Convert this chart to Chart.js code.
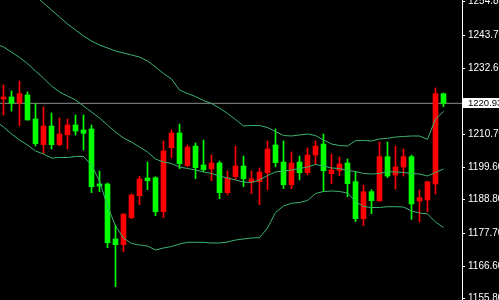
<!DOCTYPE html>
<html><head><meta charset="utf-8">
<script src="https://cdn.jsdelivr.net/npm/chart.js@4.4.1/dist/chart.umd.min.js"></script>
<style>html,body{margin:0;padding:0;background:#000;overflow:hidden}</style>
</head><body>
<canvas id="c" width="499" height="300"></canvas>
<script>
const opens = [1222.37,1223.04,1221.04,1223.70,1215.70,1207.14,1213.37,1207.14,1210.47,1213.70,1212.04,1212.37,1194.04,1194.04,1175.70,1173.80,1182.80,1190.14,1196.04,1196.14,1184.80,1206.14,1211.04,1200.14,1206.70,1200.37,1199.04,1201.04,1191.14,1196.47,1200.04,1194.70,1194.80,1197.80,1207.04,1201.37,1193.80,1201.37,1197.80,1203.70,1207.37,1197.47,1198.47,1201.04,1194.80,1182.47,1191.47,1188.37,1203.14,1197.04,1199.70,1203.14,1188.37,1188.70,1194.04,1224.14];
const highs = [1227.04,1225.04,1228.37,1224.70,1220.80,1219.70,1217.70,1216.04,1215.70,1217.04,1217.04,1213.70,1198.37,1194.37,1180.37,1184.04,1190.70,1196.60,1201.37,1196.47,1208.37,1212.04,1214.04,1207.04,1207.70,1208.70,1203.70,1201.70,1198.37,1206.70,1203.37,1198.37,1199.37,1208.37,1212.37,1208.37,1204.70,1203.37,1206.04,1208.37,1210.70,1204.04,1203.04,1202.37,1198.14,1193.70,1192.14,1208.04,1208.04,1206.70,1205.70,1203.70,1192.04,1194.80,1226.04,1224.37];
const lows = [1217.04,1218.37,1213.47,1215.37,1206.70,1204.14,1205.70,1206.70,1205.70,1210.37,1205.37,1191.14,1191.47,1172.80,1159.80,1171.47,1182.47,1187.14,1192.14,1183.47,1182.80,1202.80,1199.14,1199.80,1195.80,1198.14,1195.14,1189.14,1190.37,1195.37,1193.14,1190.80,1187.14,1192.14,1199.80,1192.47,1192.47,1195.37,1197.14,1200.47,1191.47,1194.14,1196.80,1189.80,1181.47,1180.14,1184.14,1188.37,1196.14,1192.37,1196.70,1182.27,1181.37,1184.80,1190.70,1219.80];
const closes = [1223.04,1220.94,1224.14,1215.37,1207.47,1213.37,1207.14,1210.70,1213.70,1211.70,1210.94,1193.14,1193.37,1174.47,1173.80,1184.04,1190.37,1195.70,1195.14,1184.80,1205.04,1211.04,1200.80,1206.37,1199.47,1198.80,1201.04,1191.14,1196.14,1200.04,1195.80,1195.70,1198.04,1205.70,1201.14,1193.80,1201.04,1197.80,1203.70,1206.70,1198.47,1198.70,1200.70,1194.14,1182.47,1191.47,1188.47,1203.14,1196.70,1199.70,1203.14,1187.37,1189.47,1194.80,1224.14,1220.93];

// Bollinger bands, one value per bar starting one bar before the first candle
const upperBand = [1270.04,1267.37,1264.70,1262.04,1259.37,1256.70,1254.37,1252.04,1249.70,1247.37,1245.37,1243.37,1241.70,1240.37,1239.37,1238.37,1237.70,1237.04,1236.37,1235.04,1233.04,1230.87,1229.04,1225.37,1224.20,1223.20,1221.87,1220.87,1219.37,1217.54,1215.54,1213.37,1213.54,1213.54,1212.87,1211.54,1210.20,1210.04,1210.37,1210.70,1210.20,1208.70,1207.37,1206.87,1206.70,1208.47,1208.54,1208.37,1209.04,1209.27,1209.70,1209.87,1210.04,1210.04,1208.94,1215.70,1218.20];
const middleBand = [1240.70,1239.70,1238.04,1236.20,1234.20,1231.70,1229.37,1226.70,1224.70,1223.37,1222.04,1220.04,1218.04,1216.04,1213.70,1211.37,1209.37,1208.04,1206.37,1204.70,1202.37,1201.37,1200.87,1199.70,1199.20,1198.70,1198.04,1197.54,1196.70,1196.04,1195.37,1194.70,1194.54,1195.37,1196.87,1198.04,1198.37,1198.70,1199.20,1199.70,1200.54,1200.04,1199.37,1199.20,1198.54,1198.20,1197.54,1197.37,1197.54,1198.20,1198.04,1197.87,1197.54,1197.37,1196.70,1197.87,1199.04];
const lowerBand = [1215.04,1213.04,1210.70,1208.70,1207.04,1205.04,1204.04,1202.70,1202.87,1202.87,1203.20,1203.20,1200.37,1195.04,1186.70,1180.04,1176.04,1174.20,1173.70,1173.37,1172.04,1172.70,1173.20,1174.04,1174.60,1174.60,1174.60,1174.37,1174.37,1174.70,1175.37,1175.70,1176.04,1176.14,1179.37,1184.54,1186.70,1187.60,1187.87,1188.54,1190.87,1191.54,1191.70,1191.54,1191.04,1188.20,1186.54,1186.20,1186.20,1186.47,1186.47,1186.37,1185.04,1184.37,1184.04,1181.37,1179.54];

const yTicks = [1155.80,1166.60,1177.70,1188.80,1199.60,1210.70,1232.60,1243.70,1254.80];
const currentPrice = 1220.93;

const barIndex = opens.map((_, i) => i);
const bandIndex = upperBand.map((_, i) => i - 1);
const UP = '#ff0000', DOWN = '#00ff00', BAND = '#3cb371';
const candleColors = barIndex.map(i => closes[i] >= opens[i] ? UP : DOWN);
const FONT = '"Liberation Sans", Arial, sans-serif';

const bandSet = (arr) => ({
  type: 'line',
  data: bandIndex.map((x, k) => ({x, y: arr[k]})),
  borderColor: BAND, borderWidth: 1, pointRadius: 0, tension: 0, fill: false, order: 0
});

const bg = {
  id: 'bg',
  beforeDraw(chart) {
    const c = chart.ctx; c.save(); c.fillStyle = '#000'; c.fillRect(0, 0, chart.width, chart.height); c.restore();
  }
};
const priceLabel = {
  id: 'priceLabel',
  afterDraw(chart) {
    const c = chart.ctx, s = chart.scales.y;
    const y = s.getPixelForValue(currentPrice);
    c.save();
    c.fillStyle = '#ffffff';
    c.fillRect(463, Math.round(y) - 5, 36, 10);
    c.fillStyle = '#000000';
    c.font = '9.5px ' + FONT;
    c.textBaseline = 'middle';
    c.fillText(currentPrice.toFixed(2), 468, y);
    c.restore();
  }
};

new Chart(document.getElementById('c'), {
  type: 'bar',
  data: {
    datasets: [
      bandSet(upperBand), bandSet(middleBand), bandSet(lowerBand),
      {
        type: 'bar', grouped: false, order: 1,
        data: barIndex.map(i => ({x: i, y: [lows[i], highs[i]]})),
        backgroundColor: candleColors, barThickness: 1, borderWidth: 0
      },
      {
        type: 'bar', grouped: false, order: 1,
        data: barIndex.map(i => ({x: i, y: [opens[i], closes[i]]})),
        backgroundColor: candleColors, barThickness: 5, borderWidth: 0, minBarLength: 1
      },
      {
        type: 'line', order: 2,
        data: [{x: -2, y: currentPrice}, {x: 60, y: currentPrice}],
        borderColor: '#8c8c8c', borderWidth: 1, pointRadius: 0
      }
    ]
  },
  options: {
    responsive: false, animation: false, devicePixelRatio: 1,
    layout: {padding: 0},
    plugins: {legend: {display: false}, tooltip: {enabled: false}},
    scales: {
      x: {type: 'linear', display: false, min: -0.4375, max: 57.3125, offset: false},
      y: {
        position: 'right', min: 1155.37, max: 1255.37,
        afterBuildTicks: s => { s.ticks = yTicks.map(v => ({value: v})); },
        afterFit: s => { s.width = 37; s.paddingTop = 0; s.paddingBottom = 0; },
        ticks: {color: '#ffffff', font: {family: FONT, size: 10}, padding: 3, autoSkip: false,
                callback: v => Number(v).toFixed(2)},
        grid: {drawOnChartArea: false, tickLength: 3, color: '#ffffff', tickColor: '#ffffff'},
        border: {color: '#ffffff', width: 1}
      }
    }
  },
  plugins: [bg, priceLabel]
});
</script>
</body></html>
